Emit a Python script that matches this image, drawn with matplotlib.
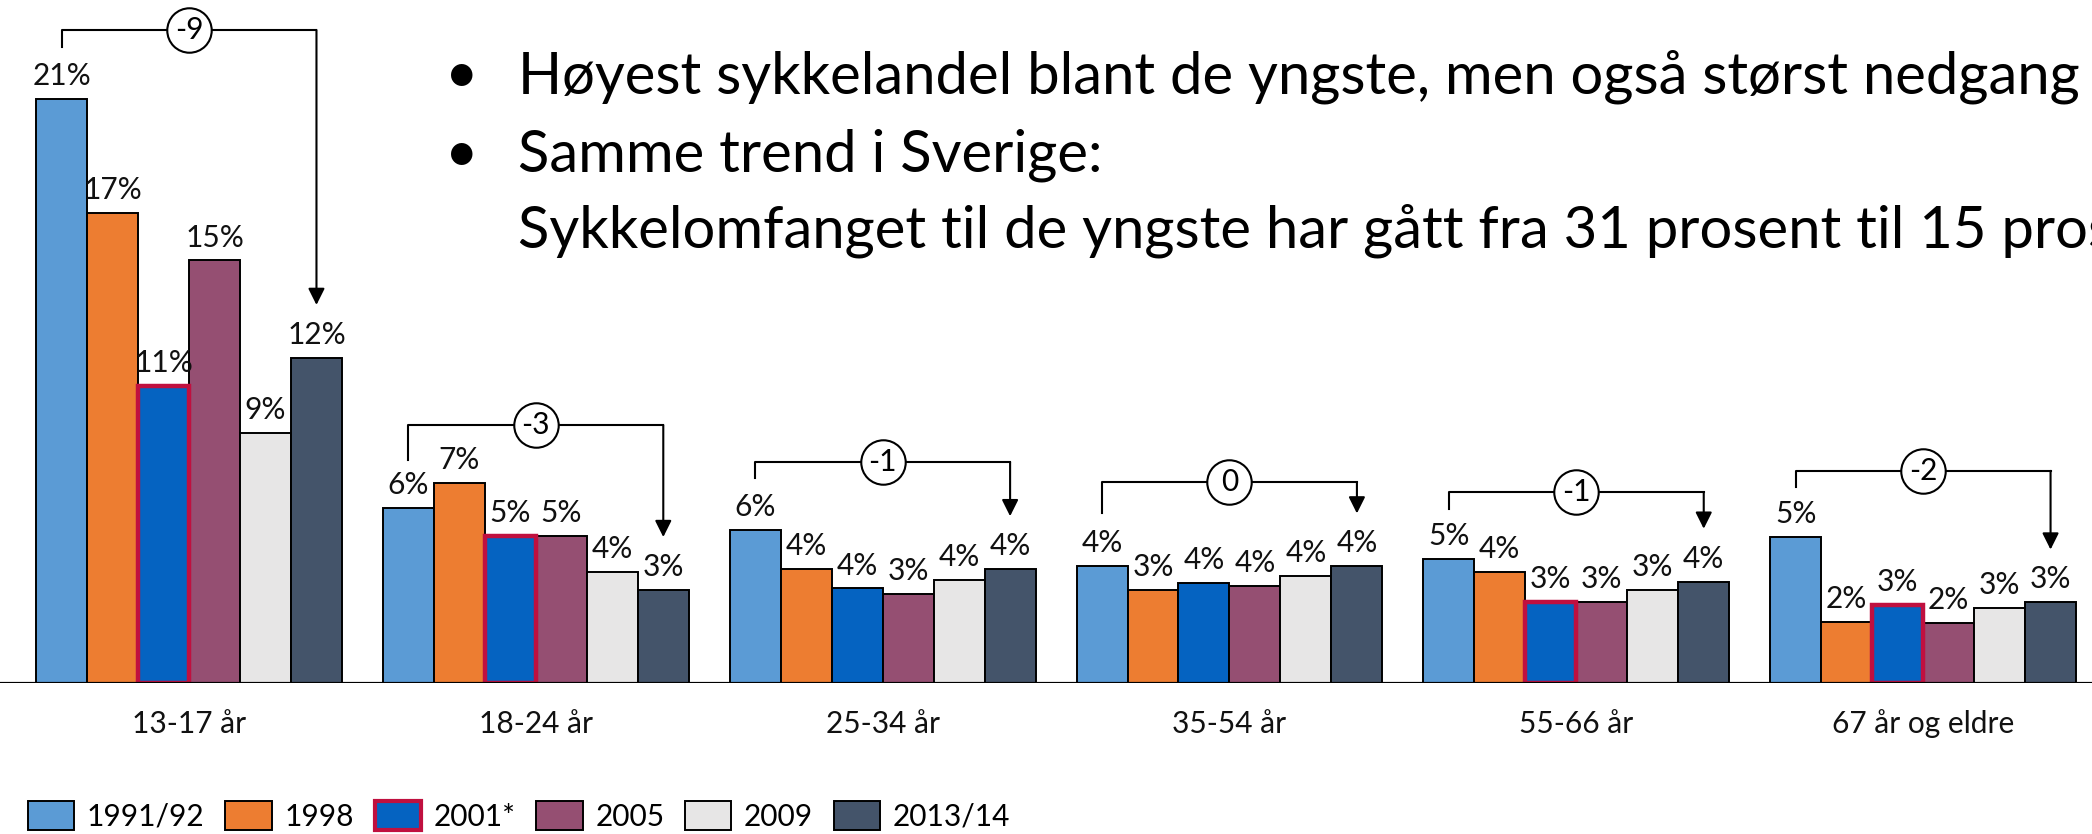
import matplotlib
matplotlib.use("Agg")
import matplotlib.pyplot as plt
from matplotlib.patches import Patch
import numpy as np

plt.rcParams['font.family'] = ['Lato', 'DejaVu Sans']

groups = ["13-17 år", "18-24 år", "25-34 år", "35-54 år", "55-66 år", "67 år og eldre"]
years = ["1991/92", "1998", "2001*", "2005", "2009", "2013/14"]

# share of trips by bike (%)
share_1991 = [21.0, 6.3, 5.5, 4.2, 4.45, 5.25]
share_1998 = [16.9, 7.2, 4.1, 3.35, 4.0, 2.2]
share_2001 = [10.7, 5.3, 3.4, 3.6, 2.9, 2.8]
share_2005 = [15.2, 5.3, 3.2, 3.5, 2.9, 2.15]
share_2009 = [9.0, 4.0, 3.7, 3.85, 3.35, 2.7]
share_2013 = [11.7, 3.35, 4.1, 4.2, 3.65, 2.9]

# printed labels on the bars
label_1991 = ["21%", "6%", "6%", "4%", "5%", "5%"]
label_1998 = ["17%", "7%", "4%", "3%", "4%", "2%"]
label_2001 = ["11%", "5%", "4%", "4%", "3%", "3%"]
label_2005 = ["15%", "5%", "3%", "4%", "3%", "2%"]
label_2009 = ["9%", "4%", "4%", "4%", "3%", "3%"]
label_2013 = ["12%", "3%", "4%", "4%", "4%", "3%"]

change = ["-9", "-3", "-1", "0", "-1", "-2"]
framed_2001 = [True, True, False, False, True, True]

# bracket layout (data units)
bracket_top = [23.49, 9.28, 7.95, 7.23, 6.87, 7.63]
bracket_left = [22.88, 8.02, 7.37, 6.12, 6.26, 7.05]

colors = ["#5B9BD5", "#ED7D31", "#0563C1", "#954F72", "#E7E6E6", "#44546A"]
red = "#C0103F"

series = [share_1991, share_1998, share_2001, share_2005, share_2009, share_2013]
labels = [label_1991, label_1998, label_2001, label_2005, label_2009, label_2013]

fs = 21.5

fig = plt.figure(figsize=(20.92, 8.34), dpi=100)
ax = fig.add_axes([0, 151 / 834, 1, 683 / 834])
ax.set_xlim(-0.545, 5.487)
ax.set_ylim(0, 24.57)
ax.axis("off")

x = np.arange(len(groups))
w = 0.147
for j, (vals, labs) in enumerate(zip(series, labels)):
    pos = x + (j - 2.5) * w
    bars = ax.bar(pos, vals, w, color=colors[j], edgecolor="black", linewidth=1.4, zorder=2)
    if j == 2:
        for k, b in enumerate(bars):
            if framed_2001[k]:
                b.set_edgecolor(red)
                b.set_linewidth(3.2)
                b.set_zorder(2.5)
    for p, v, l in zip(pos, vals, labs):
        ax.annotate(l, (p, v), xytext=(0, 10), textcoords="offset points",
                    ha="center", va="baseline", fontsize=fs, color="#111111")

ax.axhline(0, color="black", lw=2.3, zorder=3)

for i in range(len(groups)):
    xl = x[i] - 2.5 * w
    xr = x[i] + 2.5 * w
    top = bracket_top[i]
    tip = series[-1][i] + 1.9
    ax.plot([xl, xl, xr], [bracket_left[i], top, top], color="black", lw=1.5, zorder=3)
    ax.annotate("", xy=(xr, tip), xytext=(xr, top),
                arrowprops=dict(arrowstyle="-|>", color="black", lw=1.5,
                                mutation_scale=25, shrinkA=0, shrinkB=0))
    ax.plot(x[i], top, "o", ms=32, mfc="white", mec="black", mew=1.5, zorder=4)
    ax.text(x[i], top, change[i], ha="center", va="center", fontsize=fs, zorder=5)
    ax.text(x[i], -1.8, groups[i], ha="center", va="baseline", fontsize=fs, color="#111111")

handles = []
for j, c in enumerate(colors):
    if j == 2:
        handles.append(Patch(facecolor=c, edgecolor=red, linewidth=3))
    else:
        handles.append(Patch(facecolor=c, edgecolor="black", linewidth=1.4))
fig.legend(handles, years, loc="center left", bbox_to_anchor=(28 / 2092, 18 / 834),
           ncol=6, frameon=False, fontsize=fs, handlelength=1.55, handleheight=1.08,
           handletextpad=0.42, columnspacing=0.7, borderpad=0, borderaxespad=0)

lines = [
    ("Høyest sykkelandel blant de yngste, men også størst nedgang", 93, True),
    ("Samme trend i Sverige:", 172, True),
    ("Sykkelomfanget til de yngste har gått fra 31 prosent til 15 prosent", 247, False),
]
for txt, base, bullet in lines:
    yb = (834 - base) / 834
    if bullet:
        fig.text(462 / 2092, yb, "•", ha="center", va="baseline", fontsize=41.8)
    fig.text(518 / 2092, yb, txt, ha="left", va="baseline", fontsize=41.8)

fig.savefig("out.png", dpi=100)
